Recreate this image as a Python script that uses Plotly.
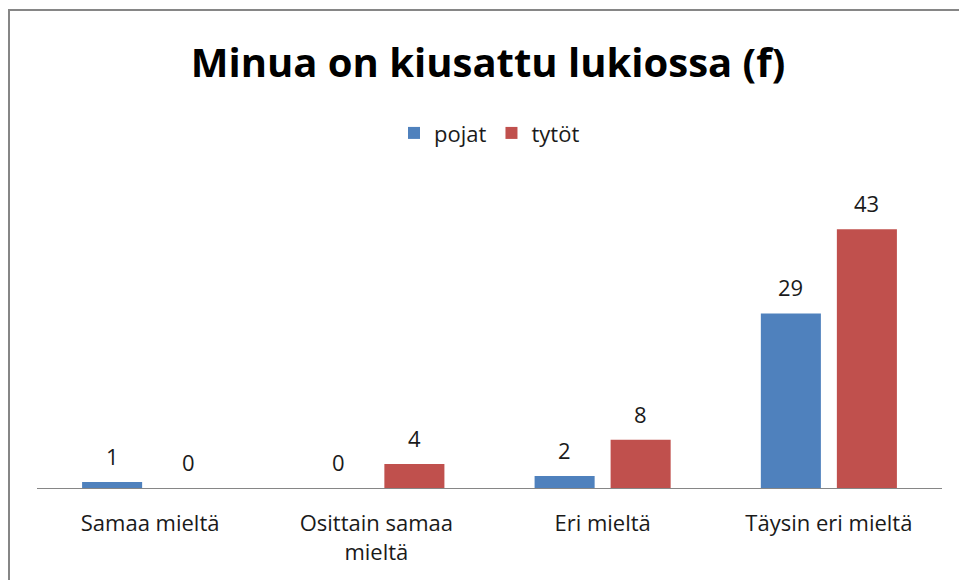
import plotly.graph_objects as go

categories = ["Samaa mieltä", "Osittain samaa<br>mieltä", "Eri mieltä", "Täysin eri mieltä"]
pojat = [1, 0, 2, 29]
tytot = [0, 4, 8, 43]
series_names = ["pojat", "tytöt"]
colors = ["#4F81BD", "#C0504D"]
title_text = "Minua on kiusattu lukiossa (f)"

FONT = "Open Sans"

fig = go.Figure()
for name, vals, col in zip(series_names, [pojat, tytot], colors):
    fig.add_trace(go.Bar(x=categories, y=vals, name=name, marker=dict(color=col, line=dict(width=0))))

annotations = []
for vals, shift in [(pojat, -38), (tytot, 38)]:
    for c, v in zip(categories, vals):
        annotations.append(dict(x=c, y=v, xref="x", yref="y", text=str(v), showarrow=False,
                                xshift=shift, yshift=26, yanchor="middle",
                                font=dict(family=FONT, size=22, color="#1a1a1a")))

fig.update_layout(
    width=959, height=580,
    margin=dict(l=37, r=17, t=187, b=92),
    paper_bgcolor="white", plot_bgcolor="white",
    title=dict(text="<b>" + title_text + "</b>", x=488 / 959, xanchor="center", y=1 - 63 / 580, yanchor="middle",
               font=dict(family=FONT, size=40, color="black")),
    barmode="group", bargap=0.328, bargroupgap=0.21,
    showlegend=True,
    legend=dict(orientation="h", x=0.5, xanchor="center", y=1.179, yanchor="middle",
                font=dict(family=FONT, size=22, color="#1a1a1a"), itemwidth=30,
                traceorder="normal"),
    annotations=annotations,
    xaxis=dict(showline=True, linecolor="#868686", linewidth=1, ticks="", showgrid=False,
               tickfont=dict(family=FONT, size=22, color="#1a1a1a"), ticklabelstandoff=16),
    yaxis=dict(range=[0, 50], visible=False, showgrid=False, zeroline=False),
    shapes=[dict(type="rect", xref="paper", yref="paper", x0=-28 / 905, x1=1.2, y0=-1.0, y1=(488 - 10) / 301,
                 line=dict(color="#868686", width=2), layer="below")],
)

fig.write_html("out.html", config={"displayModeBar": False},
               post_script="document.body.style.margin='0';")
